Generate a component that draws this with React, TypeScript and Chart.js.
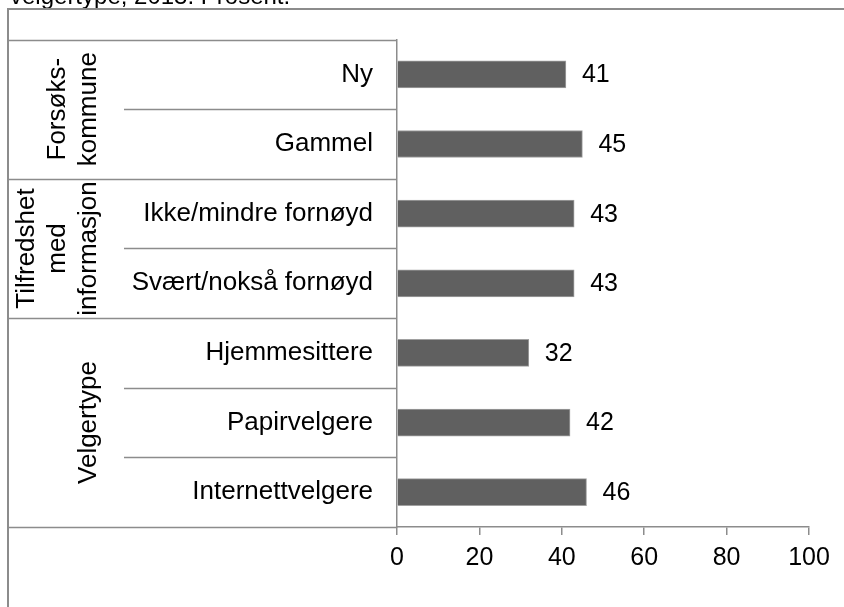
import React, { useEffect, useRef } from "react";
import { Chart, registerables } from "chart.js";

Chart.register(...registerables);

const titleText = "velgertype, 2013. Prosent.";
const categories = [
  "Ny",
  "Gammel",
  "Ikke/mindre fornøyd",
  "Svært/nokså fornøyd",
  "Hjemmesittere",
  "Papirvelgere",
  "Internettvelgere",
];
const values = [41, 45, 43, 43, 32, 42, 46];
const groupLabels = [["Forsøks-", "kommune"], ["Tilfredshet", "med", "informasjon"], ["Velgertype"]];
const groupSizes = [2, 2, 3];
const xMin = 0;
const xMax = 100;
const xStep = 20;

const FONT = '"Liberation Sans", Arial, sans-serif';
const LINE = "#8c8c8c";

const decorPlugin = {
  id: "decor",
  beforeDraw(chart: any) {
    const ctx = chart.ctx;
    ctx.save();
    ctx.fillStyle = "#ffffff";
    ctx.fillRect(0, 0, chart.width, chart.height);
    ctx.restore();
  },
  afterDraw(chart: any) {
    const ctx = chart.ctx;
    const y = chart.scales.y;
    const x = chart.scales.x;
    const area = chart.chartArea;
    ctx.save();
    // title (cut off at top)
    ctx.fillStyle = "#000";
    ctx.font = `24px ${FONT}`;
    ctx.textAlign = "left";
    ctx.textBaseline = "alphabetic";
    ctx.fillText(titleText, 10, 4);

    // outer frame
    ctx.strokeStyle = LINE;
    ctx.lineWidth = 2;
    ctx.beginPath();
    ctx.moveTo(8, chart.height);
    ctx.lineTo(8, 9);
    ctx.lineTo(chart.width, 9);
    ctx.stroke();

    // hierarchical axis lines
    const step = y.getPixelForValue(1) - y.getPixelForValue(0);
    const bound = (i: number) => y.getPixelForValue(i) - step / 2;
    const axisX = area.left;
    ctx.lineWidth = 1.5;
    ctx.beginPath();
    let idx = 0;
    const groupStarts: number[] = [];
    groupSizes.forEach((n) => {
      groupStarts.push(idx);
      idx += n;
    });
    for (let i = 0; i <= categories.length; i++) {
      const py = Math.round(bound(i)) + 0.5;
      const isGroupEdge = i === categories.length || groupStarts.includes(i);
      ctx.moveTo(isGroupEdge ? 8 : 124, py);
      ctx.lineTo(axisX, py);
    }
    ctx.stroke();

    // group labels
    ctx.fillStyle = "#000";
    ctx.font = `26px ${FONT}`;
    ctx.textAlign = "center";
    ctx.textBaseline = "alphabetic";
    const lastBaseline = 96;
    const lh = 31;
    groupLabels.forEach((lines, g) => {
      const s = groupStarts[g];
      const e = s + groupSizes[g] - 1;
      const cy = (y.getPixelForValue(s) + y.getPixelForValue(e)) / 2;
      lines.forEach((line, k) => {
        const bx = lastBaseline - (lines.length - 1 - k) * lh;
        ctx.save();
        ctx.translate(bx, cy);
        ctx.rotate(-Math.PI / 2);
        ctx.fillText(line, 0, 0);
        ctx.restore();
      });
    });

    // value labels
    ctx.font = `25px ${FONT}`;
    ctx.textAlign = "left";
    ctx.textBaseline = "middle";
    values.forEach((v, i) => {
      const px = x.getPixelForValue(v);
      const py = y.getPixelForValue(i);
      ctx.fillText(String(v), px + 16, py + 1);
    });
    ctx.restore();
  },
};

export default function App() {
  const ref = useRef<HTMLCanvasElement | null>(null);
  useEffect(() => {
    if (!ref.current) return;
    const chart = new Chart(ref.current, {
      type: "bar",
      data: {
        labels: categories,
        datasets: [
          {
            data: values,
            backgroundColor: "#606060",
            borderColor: "#a0a0a0",
            borderWidth: 1,
            barThickness: 27,
          },
        ],
      },
      options: {
        indexAxis: "y",
        animation: false,
        responsive: false,
        devicePixelRatio: 1,
        layout: { padding: { left: 0, top: 37, right: 35, bottom: 0 } },
        plugins: { legend: { display: false }, tooltip: { enabled: false }, title: { display: false } },
        scales: {
          x: {
            type: "linear",
            min: xMin,
            max: xMax,
            ticks: {
              stepSize: xStep,
              color: "#000",
              font: { family: FONT, size: 25 },
              padding: 8,
              maxRotation: 0,
            },
            grid: { drawOnChartArea: false, drawTicks: true, tickLength: 8, color: LINE, lineWidth: 1.5 },
            border: { display: true, color: LINE, width: 1.5 },
            afterFit: (s: any) => {
              s.height = 80;
            },
          },
          y: {
            type: "category",
            ticks: { color: "#000", font: { family: FONT, size: 26 }, padding: 24 },
            grid: { display: false, drawTicks: false },
            border: { display: true, color: LINE, width: 1.5 },
            afterFit: (s: any) => {
              s.width = 397;
            },
          },
        },
      },
      plugins: [decorPlugin],
    } as any);
    return () => chart.destroy();
  }, []);
  return (
    <div style={{ position: "fixed", left: 0, top: 0, width: 844, height: 607, background: "#fff" }}>
      <canvas ref={ref} width={844} height={607} style={{ width: 844, height: 607, display: "block" }} />
    </div>
  );
}
